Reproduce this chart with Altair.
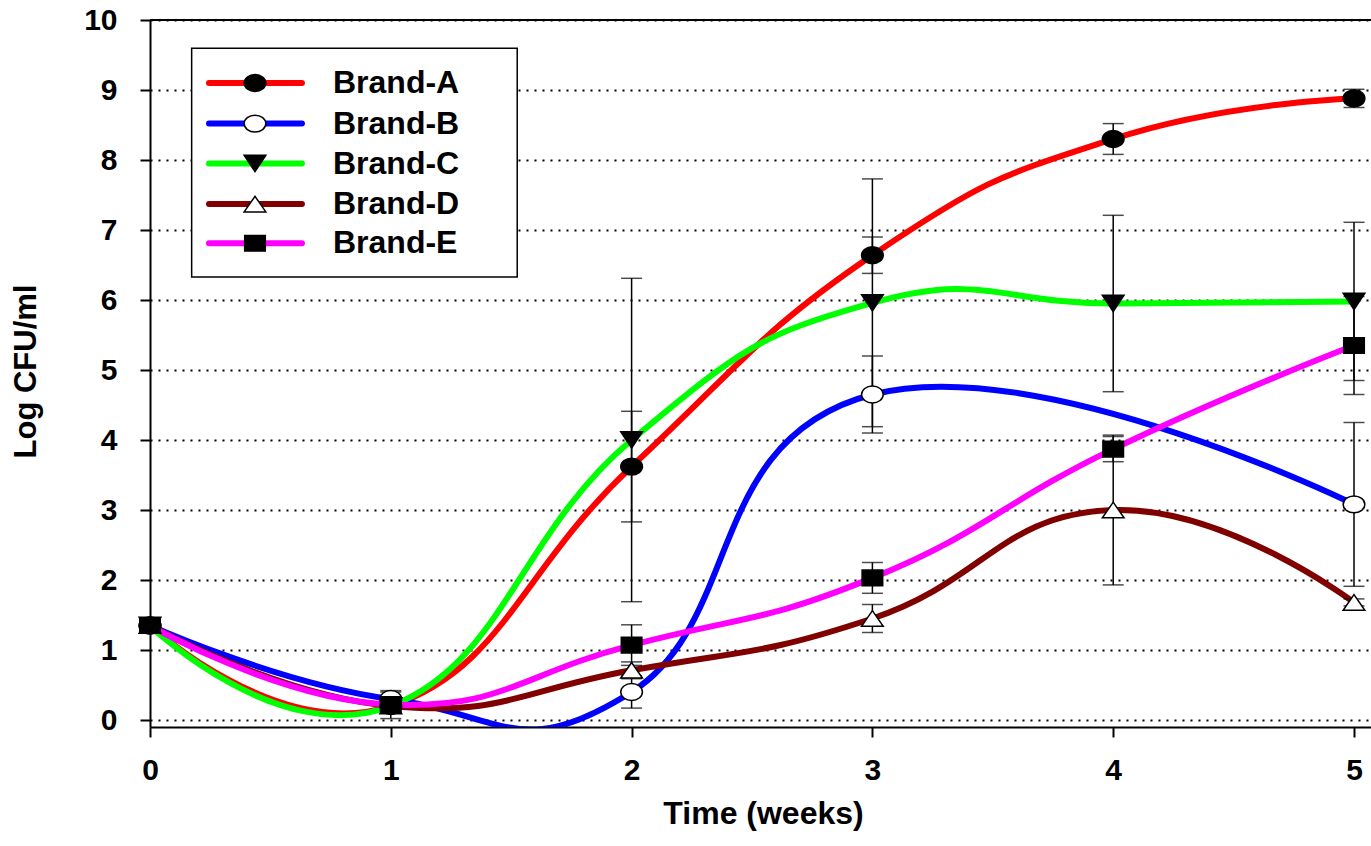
import altair as alt
import pandas as pd

# ---------------- data ----------------
weeks = [0, 1, 2, 3, 4, 5]
brands = ["Brand-A", "Brand-B", "Brand-C", "Brand-D", "Brand-E"]

brand_a = [1.35, 0.20, 3.62, 6.64, 8.30, 8.88]
brand_b = [1.35, 0.30, 0.40, 4.65, None, 3.08]
brand_c = [1.35, 0.20, 4.00, 5.96, 5.95, 5.98]
brand_d = [1.35, 0.20, 0.71, 1.45, 3.00, 1.68]
brand_e = [1.35, 0.22, 1.07, 2.03, 3.87, 5.35]

err_a = [0.0, 0.10, 0.79, 0.26, 0.22, 0.13]
err_b = [0.0, 0.10, 0.23, 0.55, None, 1.17]
err_c = [0.0, 0.10, 2.31, 1.77, 1.26, 1.13]
err_d = [0.0, 0.10, 0.12, 0.20, 1.07, 0.05]
err_e = [0.0, 0.20, 0.29, 0.22, 0.18, 0.70]

y_ticks = list(range(0, 11))

# ---------------- styles ----------------
line_colors = ["#FF0000", "#0000FF", "#00FF00", "#800000", "#FF00FF"]
marker_fills = ["black", "white", "black", "white", "black"]
ellipse = "M-1,0A1,0.78,0,1,1,1,0A1,0.78,0,1,1,-1,0Z"
tri_down = "M-1,-0.75L1,-0.75L0,0.75Z"
tri_up = "M-1,0.72L1,0.72L0,-0.72Z"
square = "M-0.95,-0.72L0.95,-0.72L0.95,0.72L-0.95,0.72Z"
marker_shapes = [ellipse, ellipse, tri_down, tri_up, square]
FONT = "Liberation Sans"

rows = []
for b, vals, errs in zip(brands, [brand_a, brand_b, brand_c, brand_d, brand_e],
                         [err_a, err_b, err_c, err_d, err_e]):
    for w, v, e in zip(weeks, vals, errs):
        if v is None:
            continue
        rows.append({"brand": b, "week": w, "value": v, "lo": v - e, "hi": v + e, "err": e})
df = pd.DataFrame(rows)
err_df = df[df["err"] > 0].reset_index(drop=True)

# legend placed in data coordinates
leg_rows = [9.10, 8.52, 7.95, 7.37, 6.81]
leg_df = pd.DataFrame({
    "brand": brands,
    "ly": leg_rows,
    "lx1": [0.245] * 5,
    "lx2": [0.631] * 5,
    "lm": [0.436] * 5,
    "lt": [0.76] * 5,
})
box_df = pd.DataFrame({"bx1": [0.173], "bx2": [1.525], "by1": [9.596], "by2": [6.33]})
frame_df = pd.DataFrame({"top": [10]})

# ---------------- scales / axes ----------------
x_scale = alt.Scale(domain=[0, 5.0706], nice=False, zero=False)
y_scale = alt.Scale(domain=[-0.1, 10], nice=False, zero=False)

x_axis = alt.Axis(
    values=weeks, title="Time (weeks)", grid=False, format="d",
    domainColor="black", domainWidth=2, tickColor="black", tickWidth=2, tickSize=10,
    labelFont=FONT, labelFontSize=30, labelFontWeight="bold", labelColor="black",
    labelPadding=18, labelFlush=False, labelOverlap=False, labelBound=False,
    titleFont=FONT, titleFontSize=32, titleFontWeight="bold", titleColor="black",
    titleX=613, titleY=96, titleBaseline="alphabetic", titleAlign="center",
)
y_axis = alt.Axis(
    values=y_ticks, title="Log CFU/ml", grid=True, format="d",
    gridColor="black", gridDash=[2, 6], gridWidth=2, gridOpacity=1,
    domainColor="black", domainWidth=2, tickColor="black", tickWidth=2, tickSize=10,
    labelFont=FONT, labelFontSize=30, labelFontWeight="bold", labelColor="black",
    labelPadding=23, labelOverlap=False, labelBound=False, labelFlush=False,
    titleFont=FONT, titleFontSize=31, titleFontWeight="bold", titleColor="black",
    titleAngle=270, titleX=-115, titleY=351, titleBaseline="alphabetic", titleAlign="center",
)


def X(field):
    return alt.X(field, type="quantitative", scale=x_scale, axis=x_axis)


def Y(field):
    return alt.Y(field, type="quantitative", scale=y_scale, axis=y_axis)


color = alt.Color("brand:N", scale=alt.Scale(domain=brands, range=line_colors), legend=None)
shape = alt.Shape("brand:N", scale=alt.Scale(domain=brands, range=marker_shapes), legend=None)
fill = alt.Fill("brand:N", scale=alt.Scale(domain=brands, range=marker_fills), legend=None)

base = alt.Chart(df)

lines = base.mark_line(
    interpolate="cardinal", tension={"expr": "-0.4"}, strokeWidth=6, clip=True
).encode(
    x=X("week"), y=Y("value"), color=color, detail="brand:N"
)

err_rules = alt.Chart(err_df).mark_rule(color="black", strokeWidth=1.5).encode(
    x=X("week"), y=Y("lo"), y2="hi"
)
err_cap_lo = alt.Chart(err_df).mark_tick(color="black", orient="horizontal", size=21, thickness=1.5).encode(
    x=X("week"), y=Y("lo")
)
err_cap_hi = alt.Chart(err_df).mark_tick(color="black", orient="horizontal", size=21, thickness=1.5).encode(
    x=X("week"), y=Y("hi")
)

points = base.mark_point(size=470, stroke="black", strokeWidth=1.5, opacity=1, filled=False).encode(
    x=X("week"), y=Y("value"), shape=shape, fill=fill
)

frame_top = alt.Chart(frame_df).mark_rule(color="black", strokeWidth=2).encode(y=Y("top"))

leg_box = alt.Chart(box_df).mark_rect(fill="white", stroke="black", strokeWidth=1.5).encode(
    x=X("bx1"), x2="bx2", y=Y("by1"), y2="by2"
)
leg_lines = alt.Chart(leg_df).mark_rule(strokeWidth=6, strokeCap="round").encode(
    x=X("lx1"), x2="lx2", y=Y("ly"), color=color
)
leg_pts = alt.Chart(leg_df).mark_point(size=470, stroke="black", strokeWidth=1.5, opacity=1, filled=False).encode(
    x=X("lm"), y=Y("ly"), shape=shape, fill=fill
)
leg_text = alt.Chart(leg_df).mark_text(
    align="left", baseline="middle", font=FONT, fontSize=32, fontWeight="bold", color="black"
).encode(x=X("lt"), y=Y("ly"), text="brand:N")

chart = alt.layer(
    frame_top, lines, err_rules, err_cap_lo, err_cap_hi, points,
    leg_box, leg_lines, leg_pts, leg_text
).properties(
    width=1221, height=707,
    padding={"left": 150, "top": 20, "right": 0, "bottom": 119},
    autosize=alt.AutoSizeParams(type="none"),
).configure_view(stroke=None).configure(background="white")

chart.save("out.html", embed_options={"renderer": "svg", "actions": False})
